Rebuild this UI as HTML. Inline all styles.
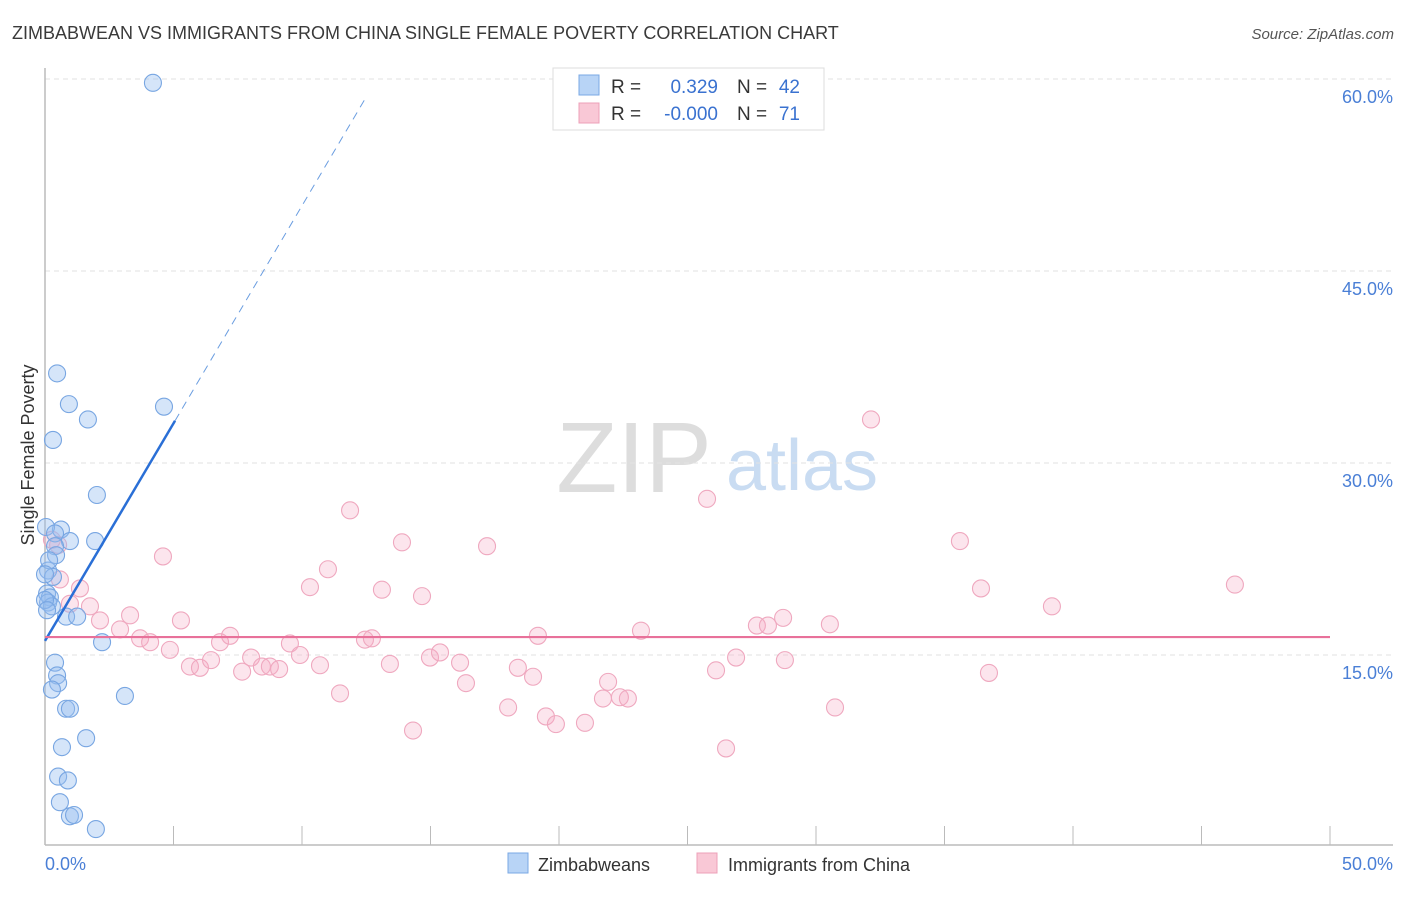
<!DOCTYPE html>
<html><head><meta charset="utf-8"><style>
body{margin:0;background:#fff;font-family:"Liberation Sans",sans-serif;}
svg text{font-family:"Liberation Sans",sans-serif;}
</style></head><body>
<svg id="chart" width="1406" height="892" viewBox="0 0 1406 892" xmlns="http://www.w3.org/2000/svg">
<text x="12" y="39" font-size="18" fill="#3a3a3a">ZIMBABWEAN VS IMMIGRANTS FROM CHINA SINGLE FEMALE POVERTY CORRELATION CHART</text>
<text x="1394" y="39" font-size="15" fill="#555" text-anchor="end" font-style="italic">Source: ZipAtlas.com</text>
<text transform="translate(34,455) rotate(-90)" font-size="18" fill="#333" text-anchor="middle">Single Female Poverty</text>
<g>
<text x="634" y="492" font-size="100" fill="#ddd" text-anchor="middle" font-family="Liberation Serif,serif">ZIP</text>
<text x="802" y="490" font-size="72" fill="#c9dcf2" text-anchor="middle">atlas</text>
</g>
<g id="grid"></g><g id="axes"></g><g id="pts"></g><g id="trend"></g>
<g>
<rect x="553" y="68" width="271" height="62" fill="#fff" stroke="#ddd"/>
<rect x="579" y="75" width="20" height="20" fill="#b8d4f6" stroke="#7aa8e4"/>
<rect x="579" y="103" width="20" height="20" fill="#f9c8d6" stroke="#eda0b8"/>
<text x="611" y="93" font-size="19" fill="#333">R =</text>
<text x="718" y="93" font-size="19" fill="#3a72d0" text-anchor="end">0.329</text>
<text x="737" y="93" font-size="19" fill="#333">N =</text>
<text x="800" y="93" font-size="19" fill="#3a72d0" text-anchor="end">42</text>
<text x="611" y="120" font-size="19" fill="#333">R =</text>
<text x="718" y="120" font-size="19" fill="#3a72d0" text-anchor="end">-0.000</text>
<text x="737" y="120" font-size="19" fill="#333">N =</text>
<text x="800" y="120" font-size="19" fill="#3a72d0" text-anchor="end">71</text>
</g>
<g>
<rect x="508" y="853" width="20" height="20" fill="#b8d4f6" stroke="#7aa8e4"/>
<text x="538" y="871" font-size="18" fill="#333">Zimbabweans</text>
<rect x="697" y="853" width="20" height="20" fill="#f9c8d6" stroke="#eda0b8"/>
<text x="728" y="871" font-size="18" fill="#333">Immigrants from China</text>
</g>
</svg>
<script>
const yTicks=[15,30,45,60];
const yTickLabels=["15.0%","30.0%","45.0%","60.0%"];
const xTickCount=10;
const blueX=[4.20,0.47,0.93,4.63,1.67,0.31,2.02,0.62,0.04,0.39,1.95,0.97,0.39,0.43,0.12,0.31,0.08,0.19,0.12,0.27,0.82,1.25,2.22,0.39,0.47,0.51,0.27,0.82,0.97,3.11,1.60,0.66,0.51,0.89,0.58,0.97,1.13,1.98,0.0,0.08,0.16,0.0];
const blueY=[59.7,37.0,34.6,34.4,33.4,31.8,27.5,24.8,25.0,24.5,23.9,23.9,23.5,22.8,21.6,21.1,19.8,19.5,19.1,18.8,18.0,18.0,16.0,14.4,13.4,12.8,12.3,10.8,10.8,11.8,8.5,7.8,5.5,5.2,3.5,2.4,2.5,1.4,19.3,18.5,22.4,21.3];
const pinkX=[0.27,0.51,0.58,1.36,1.75,0.97,2.14,2.92,3.31,3.70,4.09,4.59,4.86,5.29,5.64,6.03,6.46,6.81,7.20,7.67,8.02,8.44,8.75,9.11,9.53,9.92,10.31,10.70,11.01,11.48,11.87,12.45,12.72,13.11,13.42,13.89,14.32,14.67,14.98,15.37,16.15,16.38,17.20,18.02,18.40,18.99,19.49,19.88,19.18,21.01,21.71,21.91,22.37,22.68,23.19,25.76,26.11,26.50,26.89,27.70,28.13,28.72,28.79,30.54,30.74,32.14,35.60,36.42,36.73,39.18,46.30];
const pinkY=[24.0,23.6,20.9,20.2,18.8,19.0,17.7,17.0,18.1,16.3,16.0,22.7,15.4,17.7,14.1,14.0,14.6,16.0,16.5,13.7,14.8,14.1,14.1,13.9,15.9,15.0,20.3,14.2,21.7,12.0,26.3,16.2,16.3,20.1,14.3,23.8,9.1,19.6,14.8,15.2,14.4,12.8,23.5,10.9,14.0,13.3,10.2,9.6,16.5,9.7,11.6,12.9,11.7,11.6,16.9,27.2,13.8,7.7,14.8,17.3,17.3,17.9,14.6,17.4,10.9,33.4,23.9,20.2,13.6,18.8,20.5];
const blueTrend=[16.1,3.4];
const pinkTrend=16.4;
const X0=45,X1=1330,Y0=847,PXY=12.8;
function sx(v){return X0+(X1-X0)*v/50;}
function sy(v){return Y0-v*PXY;}
const NS="http://www.w3.org/2000/svg";
function mk(tag,attrs,parent){const e=document.createElementNS(NS,tag);for(const k in attrs)e.setAttribute(k,attrs[k]);document.getElementById(parent).appendChild(e);return e;}
yTicks.forEach((t,i)=>{
 const l=mk('line',{x1:X0,x2:1393,y1:sy(t),y2:sy(t),stroke:'#e2e2e2','stroke-dasharray':'5,4'},'grid');
 
 
 const tx=mk('text',{x:1393,y:sy(t)+24,'font-size':18,fill:'#4a7fd6','text-anchor':'end'},'grid');
 tx.textContent=yTickLabels[i];
 
 
});
const ax=mk('line',{x1:X0,x2:1393,y1:845,y2:845,stroke:'#bbb','stroke-width':1.5},'axes');


const ay=mk('line',{x1:X0,x2:X0,y1:68,y2:845,stroke:'#bbb','stroke-width':1.5},'axes');


for(let i=1;i<=xTickCount;i++){
 const t=mk('line',{x1:sx(i*5),x2:sx(i*5),y1:826,y2:845,stroke:'#bbb'},'axes');
 
 
}
const xl0=mk('text',{x:X0,y:870,'font-size':18,fill:'#4a7fd6'},'axes');xl0.textContent='0.0%';


const xl1=mk('text',{x:1393,y:870,'font-size':18,fill:'#4a7fd6','text-anchor':'end'},'axes');xl1.textContent='50.0%';


pinkX.forEach((x,i)=>{
 const c=mk('circle',{cx:sx(x),cy:sy(pinkY[i]),r:8.5,fill:'rgba(244,170,195,0.3)',stroke:'#efa8bf','stroke-width':1.1},'pts');
 
 
});
blueX.forEach((x,i)=>{
 const c=mk('circle',{cx:sx(x),cy:sy(blueY[i]),r:8.5,fill:'rgba(150,190,240,0.4)',stroke:'#78a6e2','stroke-width':1.1},'pts');
 
 
});
const bx1=5.06,bx2=12.45;
const b1=mk('line',{x1:sx(0),y1:sy(blueTrend[0]),x2:sx(bx1),y2:sy(blueTrend[0]+blueTrend[1]*bx1),stroke:'#2a6fd6','stroke-width':2.5},'trend');


const b2=mk('line',{x1:sx(bx1),y1:sy(blueTrend[0]+blueTrend[1]*bx1),x2:sx(bx2),y2:sy(blueTrend[0]+blueTrend[1]*bx2),stroke:'#6a9de0','stroke-width':1,'stroke-dasharray':'8,6'},'trend');


const p1=mk('line',{x1:sx(0),y1:sy(pinkTrend),x2:sx(50),y2:sy(pinkTrend),stroke:'#e8719a','stroke-width':2.2},'trend');


</script>
</body></html>
